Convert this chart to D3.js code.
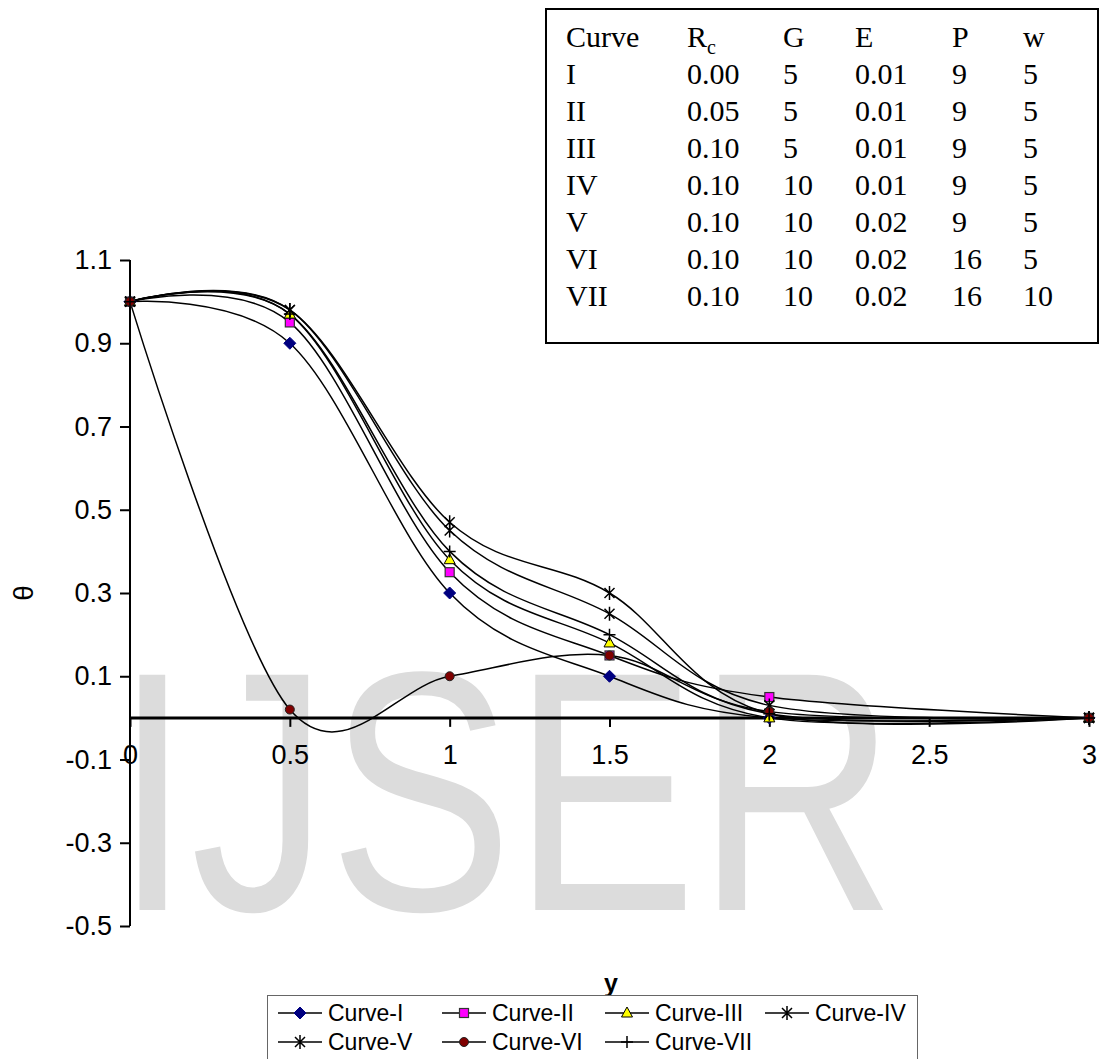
<!DOCTYPE html>
<html>
<head>
<meta charset="utf-8">
<script src="https://cdn.jsdelivr.net/npm/d3@7"></script>
<style>
  body { margin: 0; background: #fff; }
  svg { display: block; }
  text { font-family: "Liberation Sans", Arial, sans-serif; }
</style>
</head>
<body>
<svg id="chart" width="1106" height="1059"></svg>
<script>
// x positions of the computed points
const yPoints = [0, 0.5, 1, 1.5, 2, 3];

// theta values per curve
const curveI   = [1.00, 0.90, 0.30, 0.10, 0.00, 0.00];
const curveII  = [1.00, 0.95, 0.35, 0.15, 0.05, 0.00];
const curveIII = [1.00, 0.97, 0.38, 0.18, 0.00, 0.00];
const curveIV  = [1.00, 0.98, 0.45, 0.25, 0.03, 0.00];
const curveV   = [1.00, 0.98, 0.47, 0.30, 0.01, 0.00];
const curveVI  = [1.00, 0.02, 0.10, 0.15, 0.015, 0.00];
const curveVII = [1.00, 0.97, 0.40, 0.20, 0.01, 0.00];

const seriesNames = ['Curve-I', 'Curve-II', 'Curve-III', 'Curve-IV', 'Curve-V', 'Curve-VI', 'Curve-VII'];
const seriesValues = [curveI, curveII, curveIII, curveIV, curveV, curveVI, curveVII];
const markerTypes = ['diamond', 'square', 'triangle', 'star', 'star', 'circle', 'plus'];

const xTicks = [0, 0.5, 1, 1.5, 2, 2.5, 3];
const yTicks = [-0.5, -0.3, -0.1, 0.1, 0.3, 0.5, 0.7, 0.9, 1.1];

// parameter table
const tableHeader = ['Curve', 'R', 'G', 'E', 'P', 'w'];
const tableRows = [
  ['I',   '0.00', '5',  '0.01', '9',  '5'],
  ['II',  '0.05', '5',  '0.01', '9',  '5'],
  ['III', '0.10', '5',  '0.01', '9',  '5'],
  ['IV',  '0.10', '10', '0.01', '9',  '5'],
  ['V',   '0.10', '10', '0.02', '9',  '5'],
  ['VI',  '0.10', '10', '0.02', '16', '5'],
  ['VII', '0.10', '10', '0.02', '16', '10']
];

const svg = d3.select('#chart');

const x = d3.scaleLinear().domain([0, 3]).range([130, 1089]);
const y = d3.scaleLinear().domain([-0.5, 1.1]).range([926, 260]);

// watermark behind everything
svg.append('text')
  .attr('x', 114)
  .attr('y', 910)
  .attr('textLength', 782)
  .attr('lengthAdjust', 'spacingAndGlyphs')
  .style('font-size', '342px')
  .attr('fill', '#dcdcdc')
  .text('IJSER');

// plain hyphen for negatives, like the original
const fmtY = d => d3.format('.1f')(d).replace('\u2212', '-');

// y axis
const yAxis = svg.append('g')
  .attr('transform', `translate(${x(0)},0)`)
  .call(d3.axisLeft(y).tickValues(yTicks).tickSize(10).tickPadding(8).tickFormat(fmtY));
yAxis.select('.domain').attr('stroke', '#000').attr('stroke-width', 2).attr('d', `M0,${y(1.1)}V${y(-0.5)}`);
yAxis.selectAll('.tick line').attr('stroke', '#000').attr('stroke-width', 2);
yAxis.selectAll('.tick text')
  .style('font-size', '27px')
  .style('font-family', '"Liberation Sans", Arial, sans-serif')
  .attr('fill', '#000');

// x axis crossing at theta = 0
const xAxis = svg.append('g')
  .attr('transform', `translate(0,${y(0)})`)
  .call(d3.axisBottom(x).tickValues(xTicks).tickSize(9).tickPadding(18).tickFormat(d => String(d)));
xAxis.select('.domain').attr('stroke', '#000').attr('stroke-width', 3).attr('d', `M${x(0)},0H${x(3)}`);
xAxis.selectAll('.tick line').attr('stroke', '#000').attr('stroke-width', 2);
xAxis.selectAll('.tick text')
  .style('font-size', '27px')
  .style('font-family', '"Liberation Sans", Arial, sans-serif')
  .attr('fill', '#000');

// axis titles
svg.append('text')
  .attr('transform', `translate(33,${y(0.3)}) rotate(-90)`)
  .attr('text-anchor', 'middle')
  .style('font-size', '28px')
  .text('θ');

svg.append('text')
  .attr('x', 611)
  .attr('y', 992)
  .attr('text-anchor', 'middle')
  .style('font-size', '25px')
  .style('font-weight', 'bold')
  .text('y');

// smoothed lines
const line = d3.line()
  .x((d, i) => x(yPoints[i]))
  .y(d => y(d))
  .curve(d3.curveCardinal.tension(0));

svg.append('g')
  .selectAll('path')
  .data(seriesValues)
  .join('path')
  .attr('d', line)
  .attr('fill', 'none')
  .attr('stroke', '#000')
  .attr('stroke-width', 1.5);

// marker drawing
function drawMarker(g, type, cx, cy) {
  if (type === 'diamond') {
    g.append('path').attr('d', `M${cx},${cy - 6}L${cx + 6},${cy}L${cx},${cy + 6}L${cx - 6},${cy}Z`)
      .attr('fill', '#000080').attr('stroke', '#000080');
  } else if (type === 'square') {
    g.append('rect').attr('x', cx - 4.5).attr('y', cy - 4.5).attr('width', 9).attr('height', 9)
      .attr('fill', '#ff00ff').attr('stroke', '#333').attr('stroke-width', 1.2);
  } else if (type === 'triangle') {
    g.append('path').attr('d', `M${cx},${cy - 6}L${cx + 5.5},${cy + 4}L${cx - 5.5},${cy + 4}Z`)
      .attr('fill', '#ffff00').attr('stroke', '#000').attr('stroke-width', 1);
  } else if (type === 'circle') {
    g.append('circle').attr('cx', cx).attr('cy', cy).attr('r', 4.5)
      .attr('fill', '#800000').attr('stroke', '#222').attr('stroke-width', 1);
  } else if (type === 'star') {
    g.append('path')
      .attr('d', `M${cx - 5},${cy - 5}L${cx + 5},${cy + 5}M${cx + 5},${cy - 5}L${cx - 5},${cy + 5}M${cx},${cy - 7}V${cy + 7}`)
      .attr('stroke', '#000').attr('stroke-width', 1.5).attr('fill', 'none');
  } else if (type === 'plus') {
    g.append('path')
      .attr('d', `M${cx - 6},${cy}H${cx + 6}M${cx},${cy - 6}V${cy + 6}`)
      .attr('stroke', '#000').attr('stroke-width', 1.5).attr('fill', 'none');
  }
}

const markers = svg.append('g');
seriesValues.forEach((vals, s) => {
  const g = markers.append('g');
  vals.forEach((v, i) => drawMarker(g, markerTypes[s], x(yPoints[i]), y(v)));
});

// parameter table box
svg.append('rect')
  .attr('x', 546).attr('y', 9).attr('width', 552).attr('height', 334)
  .attr('fill', '#fff').attr('stroke', '#000').attr('stroke-width', 2);

const colX = [566, 687, 783, 855, 952, 1023];
const table = svg.append('g');
tableHeader.forEach((h, i) => {
  const t = table.append('text').attr('x', colX[i]).attr('y', 47)
    .style('font-size', '30px').style('font-family', '"Liberation Serif", "Times New Roman", serif').text(h);
  if (h === 'R') {
    t.append('tspan').attr('dy', 7).style('font-size', '20px').text('c');
  }
});
tableRows.forEach((row, r) => {
  row.forEach((cell, i) => {
    table.append('text').attr('x', colX[i]).attr('y', 84 + r * 37)
      .style('font-size', '30px').style('font-family', '"Liberation Serif", "Times New Roman", serif').text(cell);
  });
});

// legend
svg.append('rect')
  .attr('x', 267.5).attr('y', 995.5).attr('width', 650).attr('height', 70)
  .attr('fill', '#fff').attr('stroke', '#666').attr('stroke-width', 1);

const legendColX = [278, 442, 605, 765];
const legendRowY = [1013, 1042];
seriesNames.forEach((name, i) => {
  const lx = legendColX[i % 4];
  const ly = legendRowY[Math.floor(i / 4)];
  const g = svg.append('g');
  g.append('line').attr('x1', lx).attr('x2', lx + 44).attr('y1', ly).attr('y2', ly)
    .attr('stroke', '#000').attr('stroke-width', 1.5);
  drawMarker(g, markerTypes[i], lx + 22, ly);
  g.append('text').attr('x', lx + 50).attr('y', ly + 8)
    .style('font-size', '23px').text(name);
});
</script>
</body>
</html>
